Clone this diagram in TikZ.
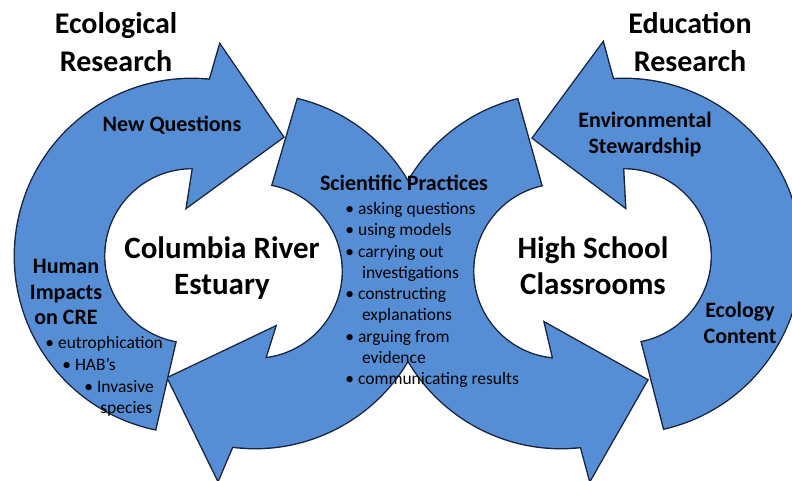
\documentclass[tikz,border=0pt]{standalone}
\usepackage{fontspec}
\setmainfont{Carlito}
\usetikzlibrary{calc}
\definecolor{ringblue}{RGB}{85,142,213}
\definecolor{ringedge}{RGB}{25,35,60}

% the four ring arrows, in pixels of the page (y grows downwards)
\newcommand{\arrowA}{($(192,256)+(102:177)$) arc[start angle=102, end angle=275.8, radius=177]
  -- (220,45) -- (283,137) -- (187,207)
  -- ($(192,256)+(270.7:88)$) arc[start angle=270.7, end angle=101, radius=88] -- cycle}
\newcommand{\arrowB}{($(255,271)+(-76:177)$) arc[start angle=-76, end angle=97.4, radius=177]
  -- (218,480) -- (168,378) -- (275,327)
  -- ($(255,271)+(83.4:88)$) arc[start angle=83.4, end angle=-78.4, radius=88] -- cycle}
\newcommand{\arrowC}{($(561,271)+(-104.3:177)$) arc[start angle=-104.3, end angle=-276.5, radius=177]
  -- (590,480) -- (647,380) -- (545,323)
  -- ($(561,271)+(-265:88)$) arc[start angle=-265, end angle=-103, radius=88] -- cycle}
\newcommand{\arrowD}{($(624,256)+(76.9:177)$) arc[start angle=76.9, end angle=-93.6, radius=177]
  -- (603,43) -- (533,138) -- (625,207)
  -- ($(624,256)+(-90.7:88)$) arc[start angle=-90.7, end angle=78.2, radius=88] -- cycle}
\newcommand{\bul}{\textbullet\ }
\newcommand{\hang}{\hspace*{0.95em}}

\begin{document}
\begin{tikzpicture}[x=0.5pt, y=-0.5pt,
    edge/.style={draw=ringedge, line width=1.4pt},
    title/.style={font=\bfseries\fontsize{15}{19}\selectfont, align=center, inner sep=0},
    centre/.style={font=\bfseries\fontsize{15.5}{18}\selectfont, align=center, inner sep=0},
    label/.style={font=\bfseries\fontsize{11}{12.8}\selectfont, align=center, inner sep=0},
    item/.style={font=\fontsize{8.75}{10.625}\selectfont, align=left, inner sep=0}]
        \useasboundingbox (0,0) rectangle (792,481);
        % Outlines first, then the fills, so that overlaps stay clean
        \foreach \p in {\arrowA,\arrowB,\arrowC,\arrowD} \draw[edge] \p;
        \foreach \p in {\arrowA,\arrowB,\arrowC,\arrowD} \fill[ringblue] \p;
        % Titles
        \node [title, anchor=north] (ecores) at (116,12) {Ecological\\Research};
        \node [title, anchor=north] (edures) at (690,12) {Education\\Research};
        % Centres of the two cycles
        \node [centre, anchor=north] (estuary) at (222,236) {Columbia River\\Estuary};
        \node [centre, anchor=north] (school) at (593,236) {High School\\Classrooms};
        % Labels on the arrows
        \node [label, anchor=base] (newq) at (172,132) {New Questions};
        \node [label, anchor=north] (steward) at (645,112) {Environmental\\Stewardship};
        \node [label, anchor=north] (content) at (740,302) {Ecology\\Content};
        \node [label, anchor=north] (impacts) at (66,259) {Human\\Impacts\\on CRE};
        \node [label, anchor=base] (practices) at (404,190) {Scientific Practices};
        % Practices list
        \node [item, anchor=north west] (pracList) at (345,202) {\bul asking questions\\
            \bul using models\\
            \bul carrying out\\
            \hang investigations\\
            \bul constructing\\
            \hang explanations\\
            \bul arguing from\\
            \hang evidence\\
            \bul communicating results};
        % Impacts list
        \node [item, anchor=base west] (eutro) at (45,348) {\bul eutrophication};
        \node [item, anchor=base west] (habs) at (62,370) {\bul HAB’s};
        \node [item, anchor=base west] (invasive) at (84,392) {\bul Invasive};
        \node [item, anchor=base west] (species) at (100,413) {species};
    \end{tikzpicture}
\end{document}
